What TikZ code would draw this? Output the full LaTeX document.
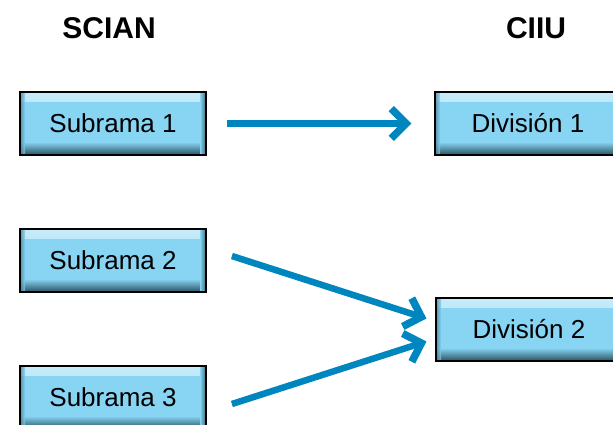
\documentclass[tikz,border=0pt]{standalone}
\usepackage{fontspec}
\setmainfont{Liberation Sans}
\usetikzlibrary{calc}
\definecolor{boxblue}{RGB}{135,212,243}
\definecolor{boxlight}{RGB}{200,236,250}
\definecolor{boxdark}{RGB}{40,80,95}
\definecolor{arrowblue}{RGB}{0,134,190}
\tikzset{
  bevelbox/.style={minimum width=186pt, minimum height=63pt, inner sep=0pt,
    fill=boxblue, font=\fontsize{26}{28}\selectfont,
    path picture={
      \fill[top color=boxlight, bottom color=boxblue]
        (path picture bounding box.north west) rectangle ($(path picture bounding box.north east)+(0,9)$);
      \fill[top color=boxblue, bottom color=boxdark]
        ($(path picture bounding box.south west)+(0,-13)$) rectangle (path picture bounding box.south east);
      \fill[left color=boxdark, right color=boxblue, opacity=0.5]
        (path picture bounding box.south west) rectangle ($(path picture bounding box.north west)+(5,0)$);
      \fill[left color=boxblue, right color=boxdark, opacity=0.8]
        ($(path picture bounding box.south east)+(-6,0)$) rectangle (path picture bounding box.north east);
    },
    draw=black, line width=1.8pt},
  header/.style={font=\bfseries\fontsize{30}{32}\selectfont},
  flow/.style={draw=arrowblue, line width=6.5pt},
  chev/.style={draw=arrowblue, line width=7.5pt, miter limit=10}
}
\newcommand{\flowarrow}[2]{%
  \draw[flow] (#1) -- (#2);
  \draw[chev] ($(#2)!21pt!45:(#1)$) -- (#2) -- ($(#2)!21pt!-45:(#1)$);}
\begin{document}
\begin{tikzpicture}[x=1pt,y=-1pt]
\useasboundingbox (0,0) rectangle (613,424);
\node[header] (scian) at (109,28) {SCIAN};
\node[header] (ciiu) at (536,28) {CIIU};
\node[bevelbox] (s1) at (113,123.5) {Subrama 1};
\node[bevelbox] (s2) at (113,260.5) {Subrama 2};
\node[bevelbox] (s3) at (113,397.5) {Subrama 3};
\node[bevelbox] (d1) at (528,123.5) {División 1};
\node[bevelbox] (d2) at (529,329.5) {División 2};
\coordinate (a1s) at ($(s1.east)+(20,0)$);
\coordinate (a1e) at ($(d1.west)+(-28,0)$);
\coordinate (a2s) at ($(s2.east)+(25,-4.5)$);
\coordinate (a2e) at ($(d2.west)+(-13.7,-12.6)$);
\coordinate (a3s) at ($(s3.east)+(25,6.5)$);
\coordinate (a3e) at ($(d2.west)+(-13.7,13.6)$);
\flowarrow{a1s}{a1e}
\flowarrow{a2s}{a2e}
\flowarrow{a3s}{a3e}
\end{tikzpicture}
\end{document}
